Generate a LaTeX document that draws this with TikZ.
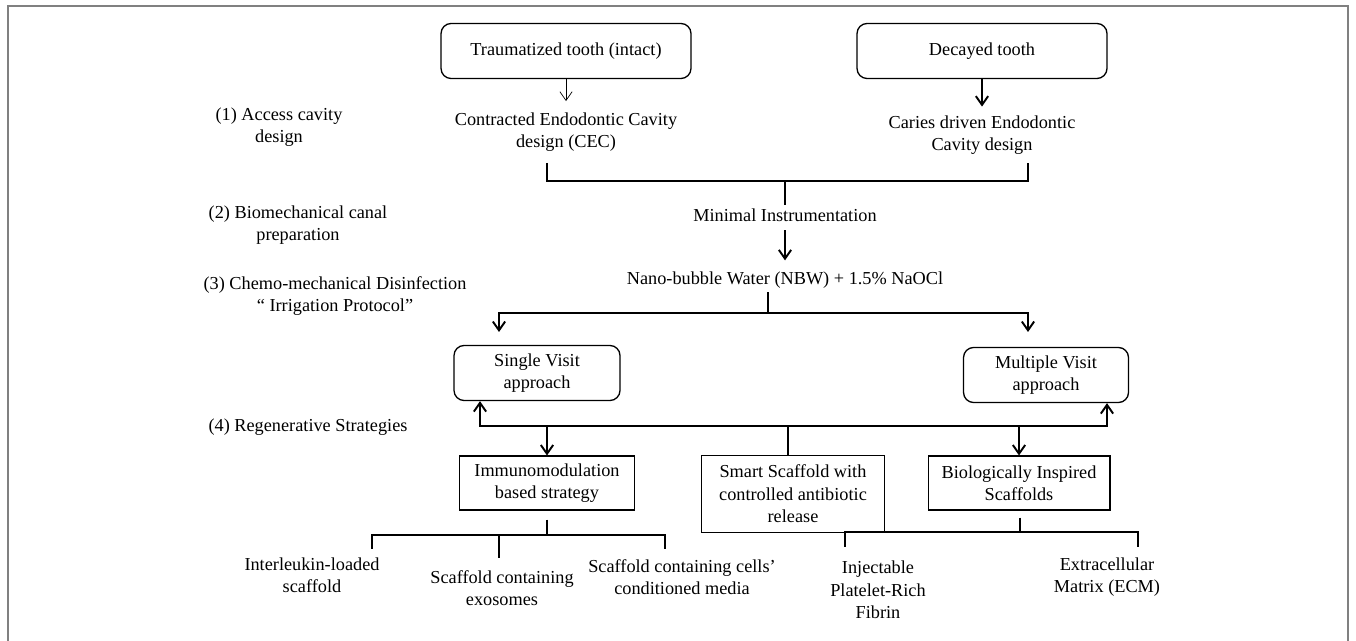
\documentclass[tikz,border=0pt]{standalone}
\usepackage{fontspec}
\setmainfont{Liberation Serif}
\usetikzlibrary{arrows.meta,positioning}
\newcommand\figfont{\fontsize{10.4}{12.8}\selectfont}

\begin{document}
\begin{tikzpicture}[x=0.02cm,y=-0.02cm,
 every node/.style={font=\figfont,align=center,inner sep=2pt},
 rbox/.style={draw,line width=0.75pt,rounded corners=2mm,minimum height=1.1cm},
 sbox/.style={draw,line width=0.6pt,minimum height=1.08cm},
 conn/.style={line width=1.1pt},
 arr/.style={conn,-{Straight Barb[length=5pt,width=7pt]}},
 biarr/.style={conn,{Straight Barb[length=5pt,width=7pt]}-{Straight Barb[length=5pt,width=7pt]}}]

  \useasboundingbox (0,0) rectangle (1356,641);
  \draw[gray,line width=1pt] (8,641) -- (8,6) -- (1348,6) -- (1348,641);

  % stage labels
  \node (lab1) at (279,127) {(1) Access cavity\\design};
  \node (lab2) at (298,225) {(2) Biomechanical canal\\preparation};
  \node (lab3) at (335,296) {(3) Chemo-mechanical Disinfection\\“ Irrigation Protocol”};
  \node (lab4) at (308,427) {(4) Regenerative Strategies};

  % access cavity
  \node[rbox,minimum width=5cm] (trauma) at (566,51) {Traumatized tooth (intact)};
  \node[rbox,minimum width=5cm] (decay) at (982,51) {Decayed tooth};
  \node (cec) at (566,132) {Contracted Endodontic Cavity\\design (CEC)};
  \node (caries) at (982,135) {Caries driven Endodontic\\Cavity design};
  \draw[thin,-{Straight Barb[length=5pt,width=7pt]},shorten >=1.5mm] (trauma) -- (cec);
  \draw[arr,shorten >=1mm] (decay) -- (caries);

  \coordinate (j1) at (785,181);
  \coordinate (cecleg) at (547,163);
  \coordinate (carleg) at (1028,163);
  \draw[conn] (cecleg) |- (j1) -| (carleg);

  % canal preparation and irrigation
  \node (minimal) at (785,215) {Minimal Instrumentation};
  \node (nbw) at (785,280) {Nano-bubble Water (NBW) + 1.5\% NaOCl};
  \draw[conn] (j1) -- (minimal);
  \draw[arr,shorten <=1mm,shorten >=1.5mm] (minimal) -- (nbw);

  \coordinate (j2) at (768,313);
  \coordinate (a1) at (499,332);
  \coordinate (a2) at (1028,332);
  \draw[conn] (nbw.south -| j2) -- (j2);
  \draw[biarr] (a1) |- (j2) -| (a2);

  % visits
  \node[rbox,minimum width=3.32cm] (single) at (537,373) {Single Visit\\approach};
  \node[rbox,minimum width=3.3cm] (multi) at (1046,375) {Multiple Visit\\approach};

  \coordinate (j3) at (788,426);
  \coordinate (l4) at (480,426);
  \coordinate (r4) at (1107,426);
  \draw[biarr] (single.south -| l4) |- (j3) -| (multi.south -| r4);

  % regenerative strategies
  \node[sbox,minimum width=3.5cm] (immuno) at (547,483) {Immunomodulation\\based strategy};
  \node[sbox,minimum width=3.66cm,minimum height=1.54cm] (smart) at (793,494)
   {Smart Scaffold with\\controlled antibiotic\\release};
  \node[sbox,minimum width=3.64cm] (bio) at (1019,483) {Biologically Inspired\\Scaffolds};
  \draw[arr] (immuno.north |- j3) -- (immuno);
  \draw[arr] (bio.north |- j3) -- (bio);
  \draw[conn] (j3) -- (j3 |- smart.north);

  % immunomodulation branches
  \node (il) at (312,575) {Interleukin-loaded\\scaffold};
  \node (exo) at (502,588) {Scaffold containing\\exosomes};
  \node (cond) at (682,577) {Scaffold containing cells’\\conditioned media};
  \coordinate (j4) at (547,535);
  \coordinate (il1) at (372,549);
  \coordinate (il2) at (499,558);
  \coordinate (il3) at (665,549);
  \draw[conn] ([yshift=-1.8mm]j4 |- immuno.south) -- (j4);
  \draw[conn] (il1) |- (j4) -| (il3);
  \draw[conn] (il2) -- (il2 |- j4);

  % scaffold branches
  \node (iprf) at (878,590) {Injectable\\Platelet-Rich\\Fibrin};
  \node (ecm) at (1107,577) {Extracellular\\Matrix (ECM)};
  \coordinate (j5) at (1020,532);
  \coordinate (bl1) at (845,547);
  \coordinate (bl2) at (1138,547);
  \draw[conn] ([yshift=-1.4mm]j5 |- bio.south) -- (j5);
  \draw[conn] (bl1) |- (j5) -| (bl2);
\end{tikzpicture}
\end{document}
